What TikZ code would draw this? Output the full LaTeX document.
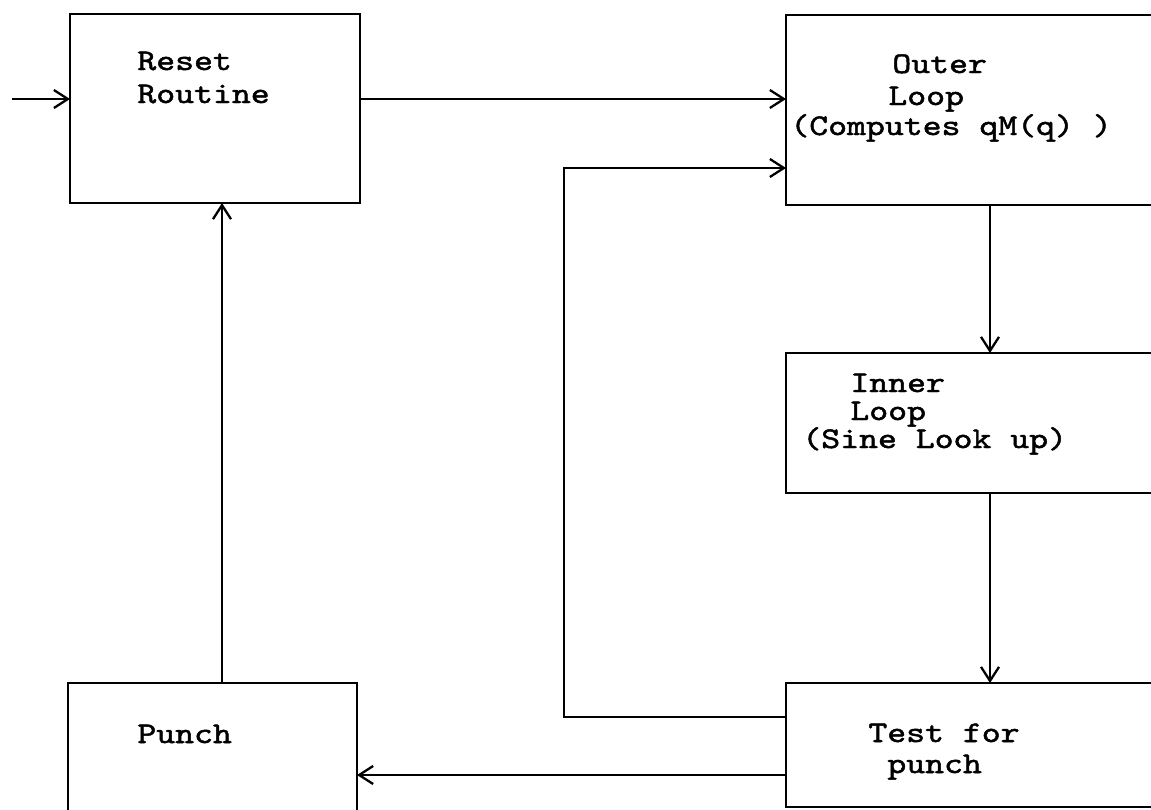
\documentclass[tikz,border=0pt]{standalone}
\usepackage{fontspec}
\newfontfamily\tw{lmmono10-regular.otf}[FakeStretch=1.2,FakeBold=1.6]
\usetikzlibrary{arrows.meta,fit}
\begin{document}
\begin{tikzpicture}[x=0.5pt,y=-0.5pt,
  box/.style={draw, line width=1.4pt, inner sep=0pt, outer sep=0pt},
  conn/.style={line width=1.15pt, -{Straight Barb[length=7pt,width=9pt]}},
  lbl/.style={anchor=base west, inner sep=0pt, font={\tw\fontsize{15}{15.5}\selectfont}}]
\useasboundingbox (0,0) rectangle (1151,809);
\clip (0,0) rectangle (1151,809);
% boxes
\node[box, fit={(70,14)(360,203)}] (reset) {};
\node[box, fit={(786,15)(1170,205)}] (outer) {};
\node[box, fit={(786,353)(1170,493)}] (inner) {};
\node[box, fit={(68,683)(357,830)}] (punch) {};
\node[box, fit={(786,683)(1170,807)}] (test) {};
% labels
\node[lbl] (t1) at (137,70) {Reset};
\node[lbl] (t2) at (137,103) {Routine};
\node[lbl] (t3) at (892,73) {Outer};
\node[lbl] (t4) at (888,105) {Loop};
\node[lbl] (t5) at (790,135) {(Computes qM(q) )};
\node[lbl] (t6) at (850,392) {Inner};
\node[lbl] (t7) at (850,420) {Loop};
\node[lbl] (t8) at (802,448) {(Sine Look up)};
\node[lbl] (t9) at (137,743) {Punch};
\node[lbl] (t10) at (868,742) {Test for};
\node[lbl] (t11) at (887,773) {punch};
% helper coordinates
\coordinate (entry) at (12,99);
\coordinate (loopout) at (0,717);
\coordinate (bend) at (564,168);
\coordinate (vcol) at (990,0);
\coordinate (hrow) at (0,775);
\coordinate (ucol) at (222,0);
% connectors
\draw[conn] (entry) -- (entry -| reset.west);
\draw[conn] (entry -| reset.east) -- (entry -| outer.west);
\draw[conn] (test.west |- loopout) -| (bend) -- (bend -| outer.west);
\draw[conn] (outer.south -| vcol) -- (inner.north -| vcol);
\draw[conn] (inner.south -| vcol) -- (test.north -| vcol);
\draw[conn] (test.west |- hrow) -- (punch.east |- hrow);
\draw[conn] (punch.north -| ucol) -- (reset.south -| ucol);
\end{tikzpicture}
\end{document}
